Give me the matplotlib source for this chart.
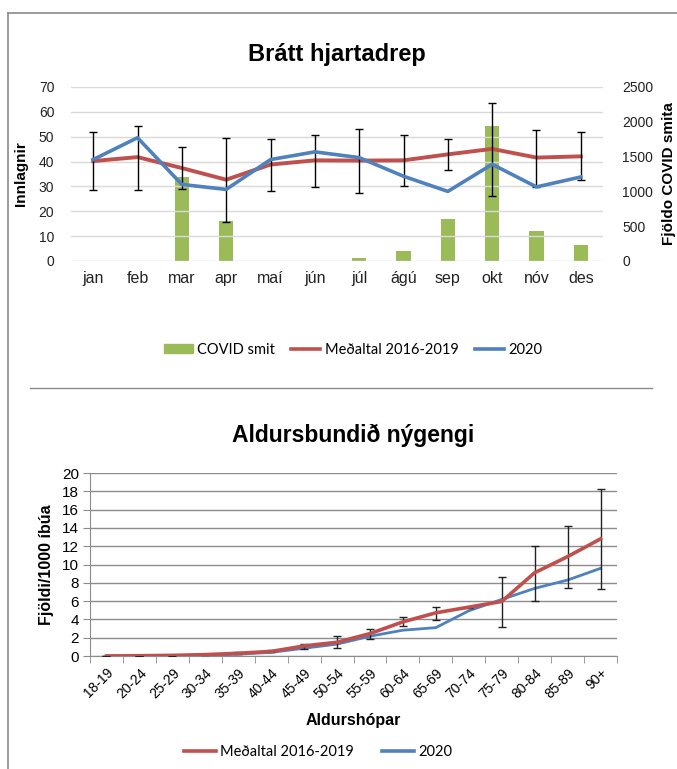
import matplotlib
matplotlib.use("Agg")
import matplotlib.pyplot as plt
from matplotlib.lines import Line2D
from matplotlib.patches import Patch
import numpy as np

plt.rcParams['font.family'] = ['Liberation Sans', 'DejaVu Sans']

# --- Brátt hjartadrep (mánuðir) ---
months = ["jan", "feb", "mar", "apr", "maí", "jún", "júl", "ágú", "sep", "okt", "nóv", "des"]
avg_2016_2019 = [40.2, 41.8, 37.4, 32.7, 38.8, 40.5, 40.4, 40.5, 42.9, 45.1, 41.6, 42.1]
y2020 = [40.8, 49.6, 30.8, 28.8, 40.8, 43.9, 41.6, 34.1, 28.0, 38.9, 29.8, 33.8]
err_low = [28.4, 28.6, 29.1, 15.7, 28.2, 29.9, 27.2, 30.0, 36.5, 26.3, 29.9, 32.5]
err_high = [51.8, 54.4, 45.7, 49.6, 49.1, 50.7, 53.0, 50.6, 49.2, 63.7, 52.7, 51.9]
covid = [0, 0, 1207, 575, 0, 0, 48, 148, 608, 1944, 426, 235]

# --- Aldursbundið nýgengi ---
ages = ["18-19", "20-24", "25-29", "30-34", "35-39", "40-44", "45-49", "50-54",
        "55-59", "60-64", "65-69", "70-74", "75-79", "80-84", "85-89", "90+"]
age_avg = [0.0, 0.03, 0.07, 0.15, 0.3, 0.5, 1.1, 1.5, 2.45, 3.73, 4.72, 5.34, 5.96, 9.1, 10.86, 12.8]
age_2020 = [0.0, 0.0, 0.02, 0.05, 0.2, 0.4, 0.85, 1.3, 2.16, 2.82, 3.1, 4.94, 6.18, 7.39, 8.3, 9.58]
age_low = [0.0, 0.0, 0.0, 0.1, 0.25, 0.44, 0.8, 0.88, 1.83, 3.29, 3.95, 5.3, 3.18, 6.03, 7.46, 7.31]
age_high = [0.0, 0.0, 0.0, 0.2, 0.4, 0.65, 1.35, 2.19, 3.0, 4.28, 5.37, 5.37, 8.67, 12.07, 14.26, 18.24]

RED = "#C0504D"
BLUE = "#4F81BD"
GREEN = "#9BBB59"
NARROW = ['Lato', 'Liberation Sans', 'DejaVu Sans']

fig = plt.figure(figsize=(6.77, 7.69), dpi=100)

# ramma línur
fig.add_artist(Line2D([8/677, 1.0], [1-13/769, 1-13/769], color="#8a8a8a", lw=1.2))
fig.add_artist(Line2D([8/677, 8/677], [1-13/769, 0.0], color="#8a8a8a", lw=1.2))
fig.add_artist(Line2D([30/677, 652/677], [1-388/769, 1-388/769], color="#8a8a8a", lw=1.0))

# ------------------------------
# 1. Brátt hjartadrep
# ------------------------------
ax = fig.add_axes([71/677, 1-261/769, 532/677, 174/769])
ax2 = ax.twinx()
x = np.arange(len(months))

ax2.bar(x, covid, width=0.32, color=GREEN, zorder=2)
ax2.set_ylim(0, 2500)
ax2.set_yticks(range(0, 2501, 500))

ax.set_zorder(ax2.get_zorder() + 1)
ax.patch.set_visible(False)

avg = np.array(avg_2016_2019)
yerr = [avg - np.array(err_low), np.array(err_high) - avg]
ax.plot(x, avg, color=RED, lw=2.8, zorder=3)
ax.errorbar(x, avg, yerr=yerr, fmt="none", ecolor="black", elinewidth=1.0, capsize=2.6, capthick=1.0, zorder=4)
ax.plot(x, y2020, color=BLUE, lw=2.6, zorder=5)

ax.set_xlim(-0.5, 11.5)
ax.set_ylim(0, 70)
ax.set_yticks(range(0, 71, 10))
ax.set_xticks(x)
ax.set_xticklabels(months)
ax.grid(axis="y", color="#d9d9d9", lw=1.0)
ax.set_axisbelow(True)
for a in (ax, ax2):
    for s in a.spines.values():
        s.set_visible(False)
ax.tick_params(length=0, labelsize=10, colors="#222222", pad=12)
ax.tick_params(axis="x", labelsize=11.5, pad=7)
ax2.tick_params(length=0, labelsize=10, colors="#222222", pad=14)
ax.set_ylabel("Innlagnir", fontsize=11, fontweight="bold", labelpad=8)
ax2.set_ylabel("Fjöldo COVID smita", fontsize=11, fontweight="bold", labelpad=6)
ax.set_title("Brátt hjartadrep", fontsize=17, fontweight="bold", pad=19)

handles = [Patch(color=GREEN), Line2D([], [], color=RED, lw=2.6), Line2D([], [], color=BLUE, lw=2.6)]
fig.legend(handles, ["COVID smit", "Meðaltal 2016-2019", "2020"], loc="center",
           bbox_to_anchor=(353/677, 1-350/769), ncol=3, frameon=False,
           prop={'family': NARROW, 'size': 10.5}, handlelength=2.0, handleheight=0.55,
           columnspacing=1.1, handletextpad=0.3)

# ------------------------------
# 2. Aldursbundið nýgengi
# ------------------------------
bx = fig.add_axes([90/677, 1-656/769, 527/677, 183/769])
xa = np.arange(len(ages))
bx.plot(xa, age_2020, color=BLUE, lw=2.0, zorder=3)
a_avg = np.array(age_avg)
a_err = [np.clip(a_avg - np.array(age_low), 0, None), np.clip(np.array(age_high) - a_avg, 0, None)]
bx.errorbar(xa, a_avg, yerr=a_err, fmt="none", ecolor="#222222", elinewidth=1.0, capsize=2.6, capthick=1.0, zorder=4)
bx.plot(xa, age_avg, color=RED, lw=2.6, zorder=5)

bx.set_xlim(-0.5, 15.5)
bx.set_ylim(0, 20)
bx.set_yticks(range(0, 21, 2))
bx.set_xticks(xa)
bx.set_xticklabels(ages, rotation=45, ha="right", rotation_mode="anchor")
bx.set_xticks(np.arange(-0.5, 16, 1), minor=True)
bx.tick_params(axis="x", which="major", length=0, labelsize=10, pad=7)
bx.tick_params(axis="x", which="minor", length=5, color="#8c8c8c", direction="out")
bx.tick_params(axis="y", length=5, color="#8c8c8c", labelsize=11, pad=3)
bx.grid(axis="y", color="#8c8c8c", lw=1.0)
bx.set_axisbelow(True)
bx.spines["top"].set_visible(False)
bx.spines["right"].set_visible(False)
bx.spines["left"].set_color("#8c8c8c")
bx.spines["bottom"].set_color("#8c8c8c")
bx.set_ylabel("Fjöldi/1000 íbúa", fontsize=11.5, fontweight="bold", labelpad=6)
bx.set_xlabel("Aldurshópar", fontsize=11.5, fontweight="bold", labelpad=9)
bx.set_title("Aldursbundið nýgengi", fontsize=16.5, fontweight="bold", pad=22)

handles2 = [Line2D([], [], color=RED, lw=2.6), Line2D([], [], color=BLUE, lw=2.6)]
fig.legend(handles2, ["Meðaltal 2016-2019", "2020"], loc="center",
           bbox_to_anchor=(318/677, 1-752/769), ncol=2, frameon=False,
           prop={'family': NARROW, 'size': 10.5}, handlelength=2.2,
           columnspacing=1.9, handletextpad=0.3)

fig.savefig("out.png", dpi=100)
